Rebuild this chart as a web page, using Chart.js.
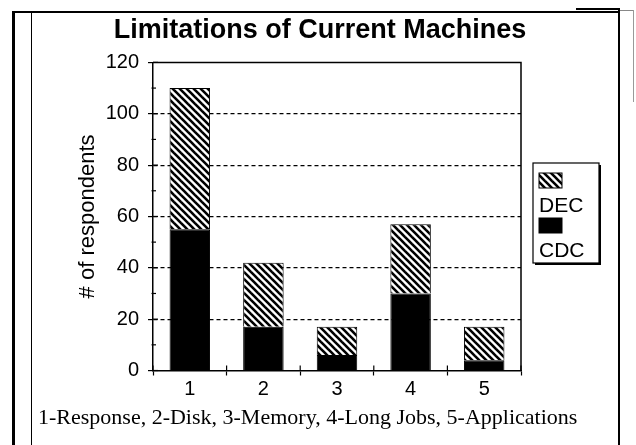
<!DOCTYPE html>
<html><head><meta charset="utf-8">
<script src="https://cdn.jsdelivr.net/npm/chart.js@4.4.0/dist/chart.umd.min.js"></script>
<style>
html,body{margin:0;padding:0;background:#fff;}
#wrap{position:relative;width:636px;height:445px;overflow:hidden;background:#fff;}
#c{position:absolute;left:0;top:0;}
.ln{position:absolute;background:#000;}
</style></head><body>
<div id="wrap">
<canvas id="c" width="636" height="445"></canvas>
<div class="ln" style="left:12px;top:11px;width:608px;height:2px"></div>
<div class="ln" style="left:12px;top:11px;width:2.5px;height:434px"></div>
<div class="ln" style="left:30.5px;top:13px;width:1.5px;height:432px"></div>
<div class="ln" style="left:618px;top:9px;width:1.5px;height:436px"></div>
<div class="ln" style="left:576px;top:8px;width:44px;height:2px"></div>
<div class="ln" style="left:620px;top:10px;width:14px;height:1px;background:#888"></div>
<div class="ln" style="left:633px;top:10px;width:1px;height:92px;background:#999"></div>
</div>
<script>
const categories = ['1', '2', '3', '4', '5'];
const cdcValues = [55, 17, 6, 30, 4];
const decValues = [55, 25, 11, 27, 13];
const yTickLabels = [0, 20, 40, 60, 80, 100, 120];
const seriesNames = ['CDC', 'DEC'];
const chartTitle = 'Limitations of Current Machines';
const yAxisTitle = '# of respondents';
const captionText = '1-Response, 2-Disk, 3-Memory, 4-Long Jobs, 5-Applications';

const SANS = "'Liberation Sans', Arial, sans-serif";
const SERIF = "'Liberation Serif', 'Times New Roman', serif";
Chart.defaults.font.family = SANS;
Chart.defaults.color = '#000';

const canvas = document.getElementById('c');
const mainCtx = canvas.getContext('2d');

function makeHatch() {
  const s = 7;
  const c = document.createElement('canvas');
  c.width = s; c.height = s;
  const g = c.getContext('2d');
  g.fillStyle = '#fff'; g.fillRect(0, 0, s, s);
  g.strokeStyle = '#000'; g.lineWidth = 2.6;
  for (let k = -1; k <= 1; k++) {
    g.beginPath(); g.moveTo(-1, k * s - 1); g.lineTo(s + 1, s + k * s + 1); g.stroke();
  }
  return mainCtx.createPattern(c, 'repeat');
}
const hatch = makeHatch();

const frameAndTicks = {
  id: 'frameAndTicks',
  afterDatasetsDraw(chart) {
    const { ctx, chartArea: ca, scales: { x, y } } = chart;
    ctx.save();
    ctx.strokeStyle = '#000';
    ctx.lineWidth = 1.5;
    ctx.beginPath();
    ctx.moveTo(ca.left, ca.top); ctx.lineTo(ca.right, ca.top); ctx.lineTo(ca.right, ca.bottom);
    ctx.stroke();
    ctx.lineWidth = 1.2;
    y.ticks.forEach((t, i) => {
      const py = y.getPixelForTick(i);
      ctx.beginPath();
      if (t.value % 20 === 0) { ctx.moveTo(ca.left, py); ctx.lineTo(ca.left + 5, py); }
      else { ctx.moveTo(ca.left - 1.5, py); ctx.lineTo(ca.left + 3, py); }
      ctx.stroke();
    });
    for (let i = 0; i <= categories.length; i++) {
      const px = x.getPixelForValue(i - 0.5);
      ctx.beginPath(); ctx.moveTo(px, ca.bottom - 5); ctx.lineTo(px, ca.bottom); ctx.stroke();
    }
    ctx.restore();
  }
};

const boxLegend = {
  id: 'boxLegend',
  afterDraw(chart) {
    const { ctx, chartArea: ca } = chart;
    const x0 = ca.right + 12, y0 = 163, w = 66, h = 100;
    ctx.save();
    ctx.fillStyle = '#000'; ctx.fillRect(x0 + 2, y0 + 2, w, h);
    ctx.fillStyle = '#fff'; ctx.fillRect(x0, y0, w, h);
    ctx.strokeStyle = '#000'; ctx.lineWidth = 1.2; ctx.strokeRect(x0, y0, w, h);
    const order = [1, 0];
    ctx.font = "21px " + SANS;
    ctx.textBaseline = 'middle';
    ctx.textAlign = 'left';
    order.forEach((di, k) => {
      const ds = chart.data.datasets[di];
      const sy = y0 + 10 + k * 45;
      ctx.fillStyle = ds.backgroundColor;
      ctx.fillRect(x0 + 6, sy, 23, 15);
      ctx.strokeStyle = '#000'; ctx.lineWidth = 1;
      ctx.strokeRect(x0 + 6, sy, 23, 15);
      ctx.fillStyle = '#000';
      ctx.fillText(ds.label, x0 + 6, sy + 33);
    });
    ctx.restore();
  }
};

new Chart(canvas, {
  type: 'bar',
  data: {
    labels: categories,
    datasets: [
      { label: seriesNames[0], data: cdcValues, backgroundColor: '#000', borderColor: '#000', borderWidth: 1 },
      { label: seriesNames[1], data: decValues, backgroundColor: hatch, borderColor: '#000', borderWidth: 1 }
    ]
  },
  options: {
    responsive: false,
    animation: false,
    devicePixelRatio: 1,
    layout: { padding: { left: 38, right: 34, top: 0, bottom: 0 } },
    datasets: { bar: { categoryPercentage: 1, barPercentage: 0.55 } },
    plugins: {
      legend: { display: false },
      tooltip: { enabled: false },
      title: {
        display: true, text: chartTitle, color: '#000',
        font: { family: SANS, size: 27, weight: 'bold' },
        padding: { top: 14, bottom: 16 }
      },
      subtitle: {
        display: true, text: captionText, position: 'bottom', align: 'start', color: '#000',
        font: { family: SERIF, size: 22, weight: 'normal' },
        padding: { top: 4, bottom: 13.1 }
      }
    },
    scales: {
      x: {
        stacked: true,
        afterFit: s => { s.height = 31; },
        ticks: { color: '#000', font: { size: 20 }, padding: 2 },
        grid: { display: true, drawOnChartArea: false, offset: true, tickLength: 5, tickColor: '#000', tickWidth: 1.2 },
        border: { display: true, color: '#000', width: 1.5 }
      },
      y: {
        stacked: true, min: 0, max: 120,
        afterFit: s => { s.width = 115; },
        ticks: {
          stepSize: 10, maxTicksLimit: 20, autoSkip: false, padding: 9, color: '#000',
          font: { size: 20 },
          callback: v => yTickLabels.includes(v) ? String(v) : ''
        },
        grid: {
          color: c => (c.tick && c.tick.value % 20 === 0 && c.tick.value > 0 && c.tick.value < 120) ? '#000' : 'rgba(0,0,0,0)',
          lineWidth: 1.2,
          tickColor: c => (c.tick && c.tick.value % 20 === 0) ? '#000' : 'rgba(0,0,0,0)',
          tickLength: 5, tickWidth: 1.2
        },
        border: { display: true, color: '#000', width: 1.5, dash: [4, 3] },
        title: { display: true, text: yAxisTitle, color: '#000', font: { size: 22 }, padding: { top: 37, bottom: 0 } }
      },
      yR: {
        type: 'linear', position: 'right', display: true,
        afterFit: s => { s.width = 81; },
        grid: { display: false, drawTicks: false },
        ticks: { display: false },
        border: { display: false }
      }
    }
  },
  plugins: [frameAndTicks, boxLegend]
});
</script>
</body></html>
